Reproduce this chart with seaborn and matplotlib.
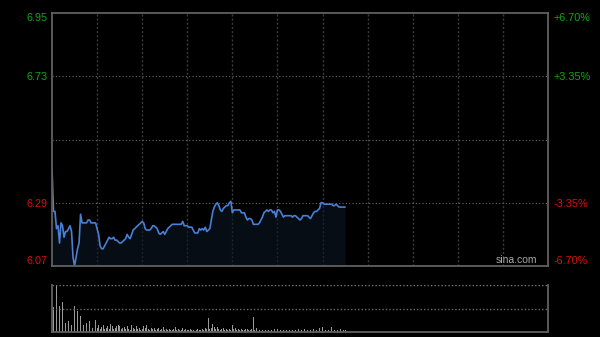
import matplotlib
matplotlib.use("Agg")
import matplotlib.pyplot as plt
import seaborn as sns
import numpy as np

# ---------------- data ----------------
prev_close = 6.51
minutes = list(range(196))
prices = [
    6.41, 6.26, 6.26, 6.20, 6.21, 6.15, 6.22, 6.21, 6.17, 6.19,
    6.19, 6.20, 6.21, 6.19, 6.10, 6.07, 6.10, 6.13, 6.15, 6.25,
    6.22, 6.22, 6.22, 6.22, 6.23, 6.23, 6.22, 6.22, 6.22, 6.22,
    6.20, 6.18, 6.14, 6.13, 6.13, 6.14, 6.15, 6.16, 6.17, 6.165,
    6.165, 6.17, 6.16, 6.16, 6.155, 6.15, 6.15, 6.155, 6.16, 6.165,
    6.18, 6.17, 6.165, 6.18, 6.195, 6.20, 6.205, 6.21, 6.215, 6.22,
    6.225, 6.22, 6.20, 6.195, 6.195, 6.195, 6.20, 6.21, 6.21, 6.205,
    6.20, 6.185, 6.18, 6.185, 6.19, 6.18, 6.19, 6.20, 6.205, 6.21,
    6.215, 6.215, 6.215, 6.215, 6.215, 6.215, 6.215, 6.225, 6.21, 6.21,
    6.21, 6.205, 6.205, 6.205, 6.195, 6.185, 6.185, 6.185, 6.20, 6.195,
    6.20, 6.195, 6.205, 6.19, 6.195, 6.20, 6.23, 6.26, 6.275, 6.285,
    6.29, 6.28, 6.265, 6.26, 6.27, 6.275, 6.28, 6.28, 6.29, 6.295,
    6.255, 6.265, 6.265, 6.265, 6.265, 6.265, 6.255, 6.255, 6.255, 6.24,
    6.23, 6.235, 6.235, 6.23, 6.215, 6.215, 6.215, 6.215, 6.22, 6.23,
    6.24, 6.255, 6.26, 6.265, 6.26, 6.265, 6.265, 6.255, 6.26, 6.24,
    6.265, 6.265, 6.26, 6.25, 6.24, 6.245, 6.245, 6.245, 6.245, 6.245,
    6.24, 6.245, 6.245, 6.24, 6.235, 6.23, 6.235, 6.245, 6.245, 6.245,
    6.245, 6.24, 6.235, 6.245, 6.255, 6.26, 6.26, 6.265, 6.27, 6.29,
    6.29, 6.285, 6.285, 6.285, 6.285, 6.285, 6.285, 6.28, 6.28, 6.285,
    6.28, 6.275, 6.275, 6.275, 6.275, 6.275,
]
volumes = [
    42, 25, 19, 47, 29, 26, 17, 30, 16, 9,
    11, 11, 15, 7, 38, 26, 14, 21, 17, 16,
    14, 7, 15, 9, 6, 11, 6, 4, 7, 12,
    4, 7, 3, 5, 7, 3, 4, 6, 3, 8,
    6, 3, 4, 6, 7, 6, 3, 4, 5, 3,
    6, 3, 2, 7, 4, 3, 6, 3, 4, 2,
    3, 6, 4, 7, 3, 2, 4, 3, 4, 2,
    3, 4, 2, 3, 5, 2, 3, 2, 3, 2,
    2, 3, 5, 2, 3, 2, 2, 4, 2, 3,
    2, 2, 3, 2, 2, 1, 2, 3, 2, 2,
    3, 2, 4, 3, 14, 3, 4, 8, 5, 3,
    5, 3, 2, 3, 4, 2, 3, 2, 3, 2,
    7, 3, 4, 2, 3, 2, 3, 2, 2, 3,
    3, 2, 2, 3, 15, 2, 4, 2, 2, 3,
    2, 2, 2, 3, 2, 2, 2, 2, 3, 2,
    3, 2, 2, 6, 2, 3, 2, 2, 2, 3,
    2, 2, 2, 2, 3, 2, 2, 2, 3, 2,
    2, 2, 2, 2, 3, 2, 2, 3, 4, 6,
    5, 3, 2, 3, 2, 2, 5, 3, 2, 2,
    2, 2, 3, 2, 2, 2,
]
price_ticks = [6.95, 6.73, 6.29, 6.07]
price_labels = ["6.95", "6.73", "6.29", "6.07"]
pct_labels = ["+6.70%", "+3.35%", "-3.35%", "-6.70%"]
session_minutes = 330

# ---------------- style ----------------
sns.set_style("dark")
plt.rcParams["font.family"] = ["Liberation Sans", "DejaVu Sans"]

GREEN = "#11a811"
RED = "#d81010"
FRAME = "#606060"

fig = plt.figure(figsize=(6.0, 3.37), dpi=100, facecolor="black")
ax = fig.add_axes([52 / 600, 1 - 266 / 337, 496 / 600, 253 / 337])
axv = fig.add_axes([52 / 600, 1 - 332 / 337, 496 / 600, 47 / 337])

for a in (ax, axv):
    a.set_facecolor("black")
    a.grid(False)
    for s in a.spines.values():
        s.set_color(FRAME)
        s.set_linewidth(1.3)
        s.set_visible(True)

# price line + fill
ax.fill_between(minutes, prices, price_ticks[-1], color="#0c1624", alpha=0.6, linewidth=0)
sns.lineplot(x=minutes, y=prices, ax=ax, color="#4a7fd6", linewidth=1.2)
ax.set_xlim(0, session_minutes)
ax.set_ylim(price_ticks[-1], price_ticks[0])

# grid lines
for t in range(30, session_minutes, 30):
    ax.axvline(t, color="#3c3c3c", linewidth=1.0, linestyle=(0, (1.5, 1.5)), zorder=0)
for p in [price_ticks[1], prev_close, price_ticks[2]]:
    ax.axhline(p, color="#6a6a6a", linewidth=0.8, linestyle=(0, (1, 2)), zorder=0)

ax.set_xticks([])
ax.set_xlabel("")
ax.set_ylabel("")
ax.set_yticks(price_ticks)
ax.set_yticklabels(price_labels)
ax.tick_params(axis="y", length=0, pad=3, labelsize=7.8)
cols = [GREEN, GREEN, RED, RED]
lbls = ax.get_yticklabels()
for lbl, c in zip(lbls, cols):
    lbl.set_color(c)
lbls[0].set_va("top")
lbls[-1].set_va("bottom")

ax2 = ax.twinx()
ax2.set_ylim(price_ticks[-1], price_ticks[0])
ax2.set_yticks(price_ticks)
ax2.set_yticklabels(pct_labels)
ax2.tick_params(axis="y", length=0, pad=4, labelsize=7.8)
for s in ax2.spines.values():
    s.set_visible(False)
lbls2 = ax2.get_yticklabels()
for lbl, c in zip(lbls2, cols):
    lbl.set_color(c)
lbls2[0].set_va("top")
lbls2[-1].set_va("bottom")
ax2.grid(False)

ax.text(0.978, 0.004, "sina.com", transform=ax.transAxes, ha="right", va="bottom",
        color="#a8a8a8", fontsize=7.5)

# volume
sns.barplot(x=minutes, y=volumes, ax=axv, native_scale=True, color="#9a9a9a",
            saturation=1, width=0.55, errorbar=None, linewidth=0)
axv.set_xlim(0, session_minutes)
axv.set_ylim(0, 47.5)
axv.spines["top"].set_visible(False)
axv.axhline(47.5, color="#7a7a7a", linewidth=1.0, linestyle=(0, (1, 1.5)))
axv.axhline(23.75, color="#6a6a6a", linewidth=1.0, linestyle=(0, (1, 1.5)))
axv.set_xticks([])
axv.set_yticks([])
axv.set_xlabel("")
axv.set_ylabel("")

fig.savefig("out.png", dpi=100, facecolor="black")
